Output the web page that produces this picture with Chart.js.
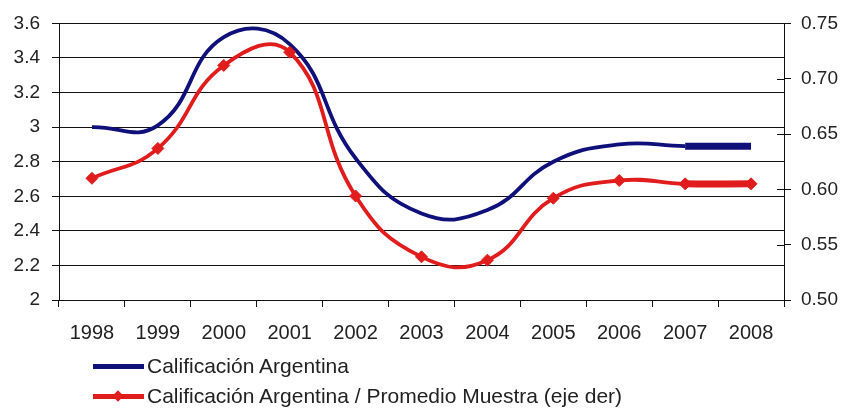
<!DOCTYPE html>
<html>
<head>
<meta charset="utf-8">
<script src="https://cdn.jsdelivr.net/npm/chart.js@4/dist/chart.umd.min.js"></script>
<style>
  html, body { margin: 0; padding: 0; background: #fff; }
  #wrap { position: relative; width: 845px; height: 408px; }
  #legend { position: absolute; left: 0; top: 0; width: 845px; height: 408px; pointer-events: none;
            font-family: "Liberation Sans", Arial, sans-serif; font-size: 21px; color: #222; }
  .row { position: absolute; left: 93px; height: 24px; display: flex; align-items: center; }
  .sample { position: relative; width: 51px; height: 24px; margin-right: 3px; }
  .sample .ln { position: absolute; left: 0; right: 0; top: 10px; height: 5px; }
  .sample .dm { position: absolute; left: 21px; top: 8px; width: 8px; height: 8px; transform: rotate(45deg); }
</style>
</head>
<body>
<div id="wrap">
  <canvas id="c"></canvas>
  <div id="legend">
    <div class="row" style="top:354px">
      <div class="sample"><div class="ln" style="background:#10107a"></div></div>
      <span>Calificación Argentina</span>
    </div>
    <div class="row" style="top:384px">
      <div class="sample"><div class="ln" style="background:#e01c1c"></div><div class="dm" style="background:#e01c1c"></div></div>
      <span>Calificación Argentina / Promedio Muestra (eje der)</span>
    </div>
  </div>
</div>
<script>
// Years on the horizontal axis
const years = ['1998', '1999', '2000', '2001', '2002', '2003', '2004', '2005', '2006', '2007', '2008'];
// Argentina's rating (left axis)
const calificacion = [3.00, 3.01, 3.52, 3.48, 2.82, 2.50, 2.52, 2.80, 2.90, 2.89, 2.89];
// Argentina's rating relative to the sample average (right axis)
const relativaMuestra = [0.610, 0.637, 0.712, 0.724, 0.594, 0.539, 0.536, 0.592, 0.608, 0.605, 0.605];
// Axis ranges
const leftRange = { min: 2, max: 3.6, step: 0.2 };
const rightRange = { min: 0.50, max: 0.75, step: 0.05 };

const BLUE = '#10107a';
const RED = '#e01c1c';
const FONT = '"Liberation Sans", Arial, sans-serif';

// the final (flat) segment is drawn heavier
const segWidth = (ctx) => (ctx.p0DataIndex === years.length - 2 ? 7 : 3.8);

// short inward tick marks on the right axis
const crossTicks = {
  id: 'crossTicks',
  afterDraw(chart) {
    const s = chart.scales.y2;
    const ctx = chart.ctx;
    ctx.save();
    ctx.strokeStyle = '#111';
    ctx.lineWidth = 1;
    s.ticks.forEach((t) => {
      const y = Math.round(s.getPixelForValue(t.value)) + 0.5;
      ctx.beginPath();
      ctx.moveTo(s.left - 7, y);
      ctx.lineTo(s.left, y);
      ctx.stroke();
    });
    ctx.restore();
  }
};

new Chart(document.getElementById('c'), {
  type: 'line',
  data: {
    labels: years,
    datasets: [
      {
        label: 'Calificación Argentina',
        data: calificacion,
        yAxisID: 'y',
        borderColor: BLUE,
        backgroundColor: BLUE,
        borderWidth: 3.8,
        pointRadius: 0,
        tension: 0.45,
        segment: { borderWidth: segWidth },
        order: 2
      },
      {
        label: 'Calificación Argentina / Promedio Muestra (eje der)',
        data: relativaMuestra,
        yAxisID: 'y2',
        borderColor: RED,
        backgroundColor: RED,
        borderWidth: 3.8,
        pointStyle: 'rectRot',
        pointRadius: 6,
        pointBorderWidth: 1,
        pointBackgroundColor: RED,
        pointBorderColor: RED,
        tension: 0.45,
        segment: { borderWidth: segWidth },
        order: 1
      }
    ]
  },
  options: {
    responsive: true,
    maintainAspectRatio: false,
    animation: false,
    layout: { padding: { top: 22, left: 0, right: 0, bottom: 0 } },
    plugins: { legend: { display: false }, tooltip: { enabled: false } },
    scales: {
      x: {
        offset: true,
        grid: { offset: true, drawOnChartArea: false, drawTicks: true, tickLength: 7, color: '#111' },
        border: { display: true, color: '#111', width: 1 },
        ticks: { color: '#222', font: { family: FONT, size: 20 }, padding: 14, maxRotation: 0, autoSkip: false },
        afterFit: (s) => { s.height = 108; }
      },
      y: {
        position: 'left',
        min: leftRange.min,
        max: leftRange.max,
        grid: { color: '#111', lineWidth: 1, drawTicks: true, tickLength: 7 },
        border: { display: true, color: '#111', width: 1 },
        ticks: {
          stepSize: leftRange.step,
          color: '#222',
          font: { family: FONT, size: 19 },
          padding: 12,
          callback: (v) => String(+Number(v).toFixed(1))
        },
        afterFit: (s) => { s.width = 59; }
      },
      y2: {
        position: 'right',
        min: rightRange.min,
        max: rightRange.max,
        grid: { drawOnChartArea: false, drawTicks: true, tickLength: 7, color: '#111' },
        border: { display: true, color: '#111', width: 1 },
        ticks: {
          stepSize: rightRange.step,
          color: '#222',
          font: { family: FONT, size: 19 },
          padding: 10,
          callback: (v) => Number(v).toFixed(2)
        },
        afterFit: (s) => { s.width = 61; }
      }
    }
  },
  plugins: [crossTicks]
});
</script>
</body>
</html>
